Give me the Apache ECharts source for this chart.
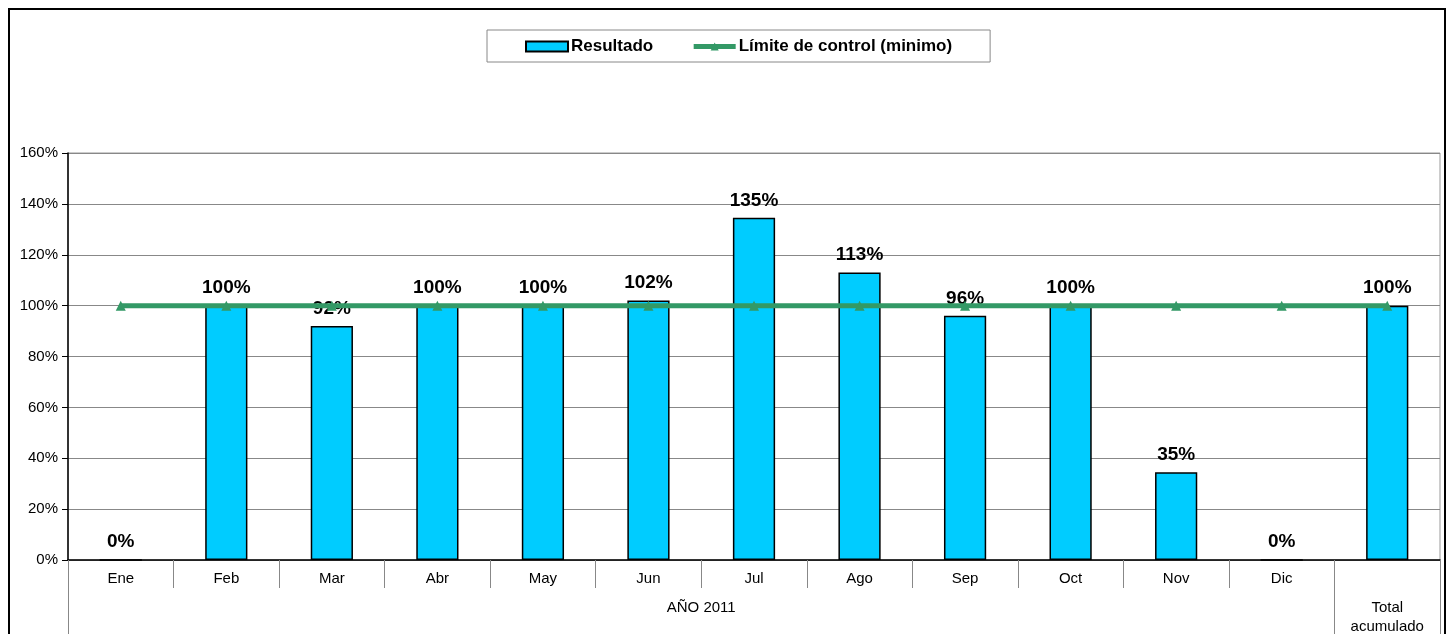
<!DOCTYPE html>
<html>
<head>
<meta charset="utf-8">
<script src="https://cdn.jsdelivr.net/npm/echarts@6/dist/echarts.min.js"></script>
<style>
  html, body { margin: 0; padding: 0; background: #fff; }
  #frame { position: absolute; left: 8px; top: 8px; width: 1438px; height: 640px; border: 2px solid #000; box-sizing: border-box; }
  #chart-container { position: absolute; left: 0; top: 0; width: 1455px; height: 634px; }
</style>
</head>
<body>
<div id="frame"></div>
<div id="chart-container"></div>
<script>
var months = ['Ene', 'Feb', 'Mar', 'Abr', 'May', 'Jun', 'Jul', 'Ago', 'Sep', 'Oct', 'Nov', 'Dic', 'Total acumulado'];
var groupLabels = ['AÑO 2011', 'Total\nacumulado'];
var resultado = [0, 1.00, 0.92, 1.00, 1.00, 1.02, 1.345, 1.13, 0.96, 1.00, 0.345, 0, 1.00];
var limite = [1, 1, 1, 1, 1, 1, 1, 1, 1, 1, 1, 1, 1];
var yTicks = [0, 0.2, 0.4, 0.6, 0.8, 1.0, 1.2, 1.4, 1.6];

var dom = document.getElementById('chart-container');
var myChart = echarts.init(dom, null, { renderer: 'canvas' });

var option = {
  animation: false,
  textStyle: { fontFamily: 'Liberation Sans, Arial, sans-serif' },
  legend: {
    top: 30,
    left: 487,
    padding: [8, 38, 7, 38],
    borderColor: '#888',
    borderWidth: 1,
    itemGap: 38,
    itemWidth: 42,
    itemHeight: 10,
    textStyle: { fontSize: 17, fontWeight: 'bold', color: '#000', padding: [0, 0, 0, -2] },
    data: [
      { name: 'Resultado', icon: 'rect' },
      { name: 'Límite de control (minimo)', lineStyle: { width: 5 } }
    ]
  },
  grid: {
    left: 68,
    right: 15,
    top: 153,
    bottom: 74,
    outerBoundsMode: 'none',
    show: true,
    borderColor: '#999',
    borderWidth: 1
  },
  xAxis: [
    {
      type: 'category',
      data: months,
      axisLine: { lineStyle: { color: '#000', width: 1.5 } },
      axisTick: { show: true, alignWithLabel: false, length: 28, lineStyle: { color: '#888' } },
      axisLabel: {
        color: '#000',
        fontSize: 15,
        margin: 11,
        formatter: function (v, i) { return i === months.length - 1 ? '' : v; }
      }
    },
    {
      type: 'value',
      position: 'bottom',
      min: 0,
      max: months.length,
      splitLine: { show: false },
      axisLine: { show: false },
      axisTick: { show: true, length: 74, customValues: [0, 12, 13], lineStyle: { color: '#888' } },
      axisLabel: {
        color: '#000',
        fontSize: 15,
        margin: 38,
        lineHeight: 19,
        customValues: [6, 12.5],
        formatter: function (v) { return v === 6 ? groupLabels[0] : groupLabels[1]; }
      }
    }
  ],
  yAxis: {
    type: 'value',
    min: yTicks[0],
    max: yTicks[yTicks.length - 1],
    interval: 0.2,
    axisLine: { show: true, lineStyle: { color: '#000', width: 1.5 } },
    axisTick: { show: true, length: 6, lineStyle: { color: '#000' } },
    splitLine: { lineStyle: { color: '#888', width: 1 } },
    axisLabel: {
      color: '#000',
      fontSize: 15,
      margin: 10,
      formatter: function (v) { return Math.round(v * 100) + '%'; }
    }
  },
  series: [
    {
      name: 'Resultado',
      type: 'bar',
      data: resultado,
      barWidth: '40%',
      itemStyle: { color: '#00CCFF', borderColor: '#000', borderWidth: 1.5 },
      label: {
        show: true,
        position: 'top',
        distance: 8,
        color: '#000',
        fontSize: 19,
        fontWeight: 'bold',
        formatter: function (p) { return Math.round(p.value * 100) + '%'; }
      }
    },
    {
      name: 'Límite de control (minimo)',
      type: 'line',
      data: limite,
      symbol: 'triangle',
      symbolSize: 10,
      z: 3,
      lineStyle: { color: '#339966', width: 5 },
      itemStyle: { color: '#339966' }
    }
  ]
};

myChart.setOption(option);
window.addEventListener('resize', myChart.resize);
</script>
</body>
</html>
